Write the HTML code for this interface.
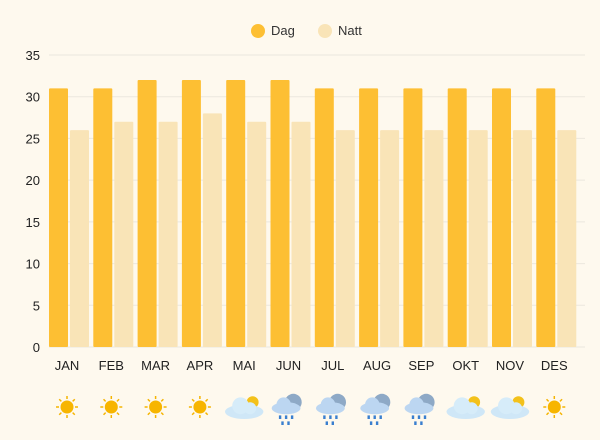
<!DOCTYPE html>
<html><head><style>
body{margin:0;background:#fef9ee;}
svg{display:block;font-family:"Liberation Sans",sans-serif;}
</style></head><body>
<svg width="600" height="440" viewBox="0 0 600 440">
<rect width="600" height="440" fill="#fef9ee"/>
<g font-size="13" fill="#333">
<circle cx="258" cy="31" r="7" fill="#fdbf33"/><text x="271" y="35">Dag</text>
<circle cx="325" cy="31" r="7" fill="#f9e4b7"/><text x="338" y="35">Natt</text>
</g>
<g id="grid" stroke="#ebe7de" stroke-width="1"></g>
<g id="bars"></g>
<g id="labels" font-size="13" fill="#222"></g>
<g id="icons"></g>
</svg>
<script>
const ns="http://www.w3.org/2000/svg";
function el(t,a,p,txt){const e=document.createElementNS(ns,t);for(const k in a)e.setAttribute(k,a[k]);if(txt!=null)e.textContent=txt;document.getElementById(p).appendChild(e);return e;}
const y0=347,s=292/35;
for(let v=0;v<=35;v+=5){const y=y0-v*s;el('line',{x1:49,x2:585,y1:y,y2:y},'grid');el('text',{x:40,y:y+5,'text-anchor':'end','font-size':13},'labels',v);}
const m=["JAN","FEB","MAR","APR","MAI","JUN","JUL","AUG","SEP","OKT","NOV","DES"];
const d=[31,31,32,32,32,32,31,31,31,31,31,31],n=[26,27,27,28,27,27,26,26,26,26,26,26];
const icons=["s","s","s","s","c","r","r","r","r","c","c","s"];
for(let i=0;i<12;i++){const x=49+i*44.3;
el('rect',{x:x,y:y0-d[i]*s,width:19,height:d[i]*s,fill:'#fdbf33',rx:1},'bars');
el('rect',{x:x+21,y:y0-n[i]*s,width:19,height:n[i]*s,fill:'#f9e4b7',rx:1},'bars');
const cx=x+18;
el('text',{x:cx,y:370,'text-anchor':'middle','font-size':13},'labels',m[i]);
const sc=icons[i]=="s"?1:1.2;
const g=el('g',{transform:`translate(${cx},407) scale(${sc})`},'icons');
if(icons[i]=="s"){g.innerHTML='<g stroke="#f5b400" stroke-width="1.5">'+[0,45,90,135,180,225,270,315].map(a=>`<line x1="0" y1="-8" x2="0" y2="-11" transform="rotate(${a})"/>`).join('')+'</g><circle r="6.5" fill="#f7b500"/>';}
else if(icons[i]=="c"){g.innerHTML='<circle cx="7" cy="-4" r="5" fill="#f3c11a"/><ellipse cx="0" cy="4" rx="16" ry="6" fill="#cfe7f7"/><circle cx="-3" cy="-1" r="7" fill="#d6ecf9"/><circle cx="5" cy="1" r="5" fill="#d6ecf9"/>';}
else{g.innerHTML='<circle cx="4" cy="-4" r="7" fill="#8ea9c6"/><ellipse cx="-2" cy="1" rx="12" ry="5" fill="#bcd6f1"/><circle cx="-4" cy="-2" r="6" fill="#bcd6f1"/><g fill="#3a7fcf"><rect x="-8" y="7" width="2" height="3"/><rect x="-3" y="7" width="2" height="3"/><rect x="2" y="7" width="2" height="3"/><rect x="-6" y="12" width="2" height="3"/><rect x="-1" y="12" width="2" height="3"/></g>';}
}
</script>
</body></html>
